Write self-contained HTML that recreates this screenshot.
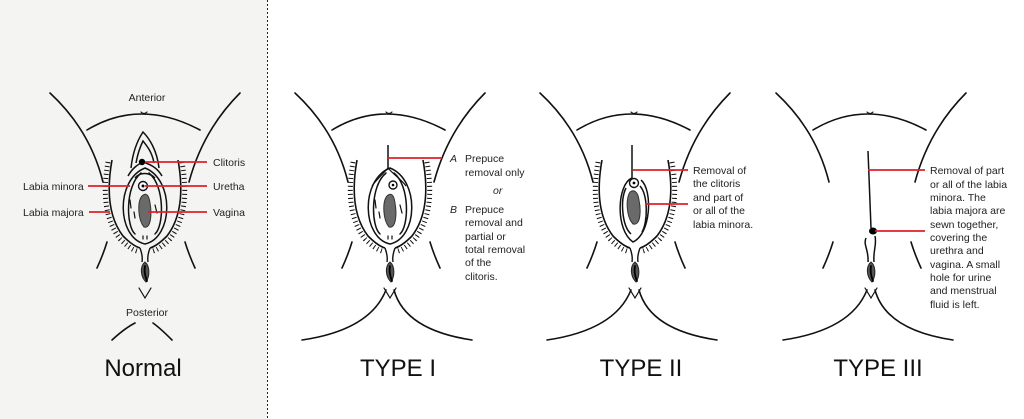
<!DOCTYPE html>
<html><head><meta charset="utf-8"><style>
html,body{margin:0;padding:0;background:#fff;}
svg{display:block;font-family:"Liberation Sans",sans-serif;}
</style></head><body>
<svg width="1024" height="419" viewBox="0 0 1024 419" xmlns="http://www.w3.org/2000/svg">
<defs>
<g id="frame" fill="none" stroke="#111" stroke-width="1.6" stroke-linecap="round">
  <path d="M-95,93 Q-55,130 -42,182"/>
  <path d="M95,93 Q58,130 44,182"/>
  <path d="M-38,242 Q-42,255 -48,268"/>
  <path d="M40,242 Q44,255 50,268"/>
  <path d="M-58,130 Q-5,98 55,130"/>
  <path d="M-4,112 q3,3 6,0" stroke-width="1.2"/>
  <path d="M-6,288 L0,298 L6,288" stroke-width="1.2"/>
  <path d="M0,262 C-5,266 -5,276 1,282 C5,276 5,266 0,262 Z" fill="#555" stroke="#222" stroke-width="1"/>
  <path d="M0,266 C-1,271 0,276 2,281" stroke="#000" stroke-width="1.8"/>
</g>
<g id="bottom" fill="none" stroke="#111" stroke-width="1.6" stroke-linecap="round">
  <path d="M-88,340 Q-20,330 -4,290"/>
  <path d="M82,340 Q15,330 4,290"/>
</g>
<g id="majora" fill="none" stroke="#111" stroke-linecap="butt">
  <path d="M-33,160 Q-42,210 -22,236 Q-12,246 -5,248" stroke-width="1.6"/>
  <path d="M-37,162 Q-46,212 -25,239 Q-15,249 -8,251" stroke-width="5" stroke-dasharray="1 3"/>
  <path d="M33,160 Q42,210 22,236 Q12,246 5,248" stroke-width="1.6"/>
  <path d="M37,162 Q46,212 25,239 Q15,249 8,251" stroke-width="5" stroke-dasharray="1 3"/>
  <path d="M-5,248 Q-2,256 -3,262 M5,248 Q2,256 3,262" stroke-width="1.4"/>
</g>
<g id="inner" fill="none" stroke="#111" stroke-width="1.5" stroke-linecap="round">
  <path d="M0,168 C-30,180 -28,238 0,244 C28,238 30,180 0,168 Z"/>
  <path d="M-4,173 C-20,186 -19,226 -10,234"/>
  <path d="M4,173 C20,186 19,226 10,234"/>
  <path d="M-15,200 l1,8 M-11,212 l1,6 M10,205 l2,8 M-2,236 l0,3 M2,236 l0,3" stroke-width="1.2"/>
  <path d="M-3,196 C-8,202 -7,220 -1,227 C6,229 7,214 5,203 C4,195 1,192 -3,196 Z" fill="#6a6a6a" stroke="#333" stroke-width="1"/>
</g>
</defs>

<!-- Normal panel -->
<rect x="0" y="0" width="267" height="419" fill="#f4f5f2"/>
<line x1="267.5" y1="0" x2="267.5" y2="419" stroke="#222" stroke-width="1" stroke-dasharray="2 2"/>

<g transform="translate(145,0)">
  <use href="#frame"/>
  <use href="#majora"/>
  <use href="#inner"/>
  <g fill="none" stroke="#111" stroke-width="1.5">
    <path d="M-14,168 C-12,150 -6,138 -2,132 C4,138 12,150 14,168"/>
    <path d="M-9,163 C-7,152 -4,145 -2,141 C2,146 7,152 9,163"/>
    <path d="M-17,176 C-12,167 -6,164 -2,162 C4,164 12,167 17,176"/>
    <path d="M-10,178 C-5,172 4,172 10,178"/>
  </g>
  <circle cx="-3" cy="162" r="3.2" fill="#000"/>
  <circle cx="-2" cy="186" r="4.5" fill="#fff" stroke="#111" stroke-width="1.4"/>
  <circle cx="-2" cy="186" r="1.5" fill="#000"/>
  <g fill="none" stroke="#111" stroke-width="1.6" stroke-linecap="round">
    <path d="M-33,340 Q-20,328 -10,323"/>
    <path d="M27,340 Q15,328 8,323"/>
  </g>
</g>
<text x="147" y="101" font-size="10.5" text-anchor="middle" fill="#222">Anterior</text>
<text x="147" y="316" font-size="10.5" text-anchor="middle" fill="#222">Posterior</text>
<g stroke="#e0202a" stroke-width="1.8">
  <line x1="145" y1="162" x2="207" y2="162"/>
  <line x1="145" y1="186" x2="207" y2="186"/>
  <line x1="148" y1="212" x2="207" y2="212"/>
  <line x1="88" y1="186" x2="130" y2="186"/>
  <line x1="89" y1="212" x2="110" y2="212"/>
</g>
<g font-size="10.5" fill="#222">
  <text x="213" y="166">Clitoris</text>
  <text x="213" y="190">Uretha</text>
  <text x="213" y="216">Vagina</text>
  <text x="23" y="190">Labia minora</text>
  <text x="23" y="216">Labia majora</text>
</g>
<text x="143" y="376" font-size="24" text-anchor="middle" fill="#111">Normal</text>

<!-- Type I -->
<g transform="translate(390,0)">
  <use href="#frame"/>
  <use href="#bottom"/>
  <use href="#majora"/>
  <use href="#inner"/>
  <path d="M-2,145 L-2,168" stroke="#111" stroke-width="1.5" fill="none"/>
  <path d="M-2,168 C-8,175 -14,180 -18,186 M-2,168 C4,175 12,180 16,186" stroke="#111" stroke-width="1.2" fill="none"/>
  <circle cx="3" cy="185" r="4" fill="#fff" stroke="#111" stroke-width="1.4"/>
  <circle cx="3" cy="185" r="1.3" fill="#000"/>
</g>
<line x1="388" y1="158" x2="442" y2="158" stroke="#e0202a" stroke-width="1.8"/>
<g font-size="10.5" fill="#222">
  <text x="450" y="162" font-style="italic">A</text>
  <text x="465" y="162">Prepuce</text>
  <text x="465" y="176">removal only</text>
  <text x="493" y="194" font-style="italic">or</text>
  <text x="450" y="213" font-style="italic">B</text>
  <text x="465" y="213">Prepuce</text>
  <text x="465" y="226">removal and</text>
  <text x="465" y="240">partial or</text>
  <text x="465" y="253">total removal</text>
  <text x="465" y="266">of the</text>
  <text x="465" y="280">clitoris.</text>
</g>
<text x="398" y="376" font-size="24" text-anchor="middle" fill="#111">TYPE I</text>

<!-- Type II -->
<g transform="translate(635,0)">
  <use href="#frame"/>
  <use href="#bottom"/>
  <use href="#majora"/>
  <g fill="none" stroke="#111" stroke-width="1.5">
    <path d="M-3,145 L-3,178"/>
    <path d="M-3,178 C-18,184 -20,230 -2,242 C16,234 18,190 6,180"/>
    <path d="M-9,188 C-15,200 -13,226 -4,234"/>
    <path d="M5,186 C13,195 13,222 7,232"/>
    <path d="M-5,192 C-10,200 -8,218 -2,224 C6,226 6,210 4,200 C3,192 -1,189 -5,192 Z" fill="#6a6a6a" stroke="#333" stroke-width="1"/>
  </g>
  <circle cx="-1" cy="183" r="4.5" fill="#fff" stroke="#111" stroke-width="1.4"/>
  <circle cx="-1" cy="183" r="1.4" fill="#000"/>
</g>
<g stroke="#e0202a" stroke-width="1.8">
  <line x1="633" y1="170" x2="688" y2="170"/>
  <line x1="645" y1="204" x2="688" y2="204"/>
</g>
<g font-size="10.5" fill="#222">
  <text x="693" y="174">Removal of</text>
  <text x="693" y="187">the clitoris</text>
  <text x="693" y="201">and part of</text>
  <text x="693" y="214">or all of the</text>
  <text x="693" y="228">labia minora.</text>
</g>
<text x="641" y="376" font-size="24" text-anchor="middle" fill="#111">TYPE II</text>

<!-- Type III -->
<g transform="translate(871,0)">
  <use href="#frame"/>
  <use href="#bottom"/>
  <g fill="none" stroke="#111" stroke-width="1.5">
    <path d="M-3,151 L0,228"/>
    <path d="M-5,238 C-8,245 -2,250 -3,262 M4,236 C6,245 2,250 3,262"/>
  </g>
  <ellipse cx="2" cy="231" rx="4" ry="3.5" fill="#000"/>
</g>
<g stroke="#e0202a" stroke-width="1.8">
  <line x1="868" y1="170" x2="925" y2="170"/>
  <line x1="875" y1="231" x2="925" y2="231"/>
</g>
<g font-size="10.5" fill="#222">
  <text x="930" y="174">Removal of part</text>
  <text x="930" y="188">or all of the labia</text>
  <text x="930" y="201">minora. The</text>
  <text x="930" y="214">labia majora are</text>
  <text x="930" y="228">sewn together,</text>
  <text x="930" y="241">covering the</text>
  <text x="930" y="254">urethra and</text>
  <text x="930" y="268">vagina. A small</text>
  <text x="930" y="281">hole for urine</text>
  <text x="930" y="294">and menstrual</text>
  <text x="930" y="308">fluid is left.</text>
</g>
<text x="878" y="376" font-size="24" text-anchor="middle" fill="#111">TYPE III</text>
</svg>
</body></html>
